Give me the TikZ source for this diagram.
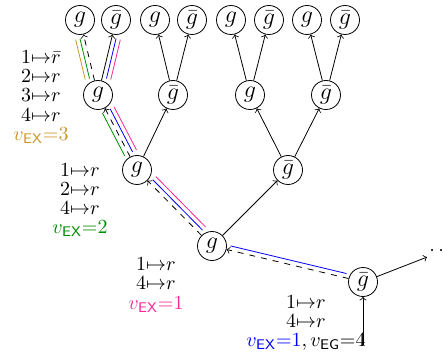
\documentclass[tikz,border=0pt]{standalone}
\usepackage{amsmath,amssymb}
\usepackage{xcolor}
\usetikzlibrary{calc}
\definecolor{exgold}{RGB}{205,150,40}
\definecolor{exgreen}{RGB}{0,140,0}
\definecolor{expink}{RGB}{245,40,150}
\definecolor{exblue}{RGB}{0,0,255}
\newcommand{\trail}[4]{\draw[#1,shorten <=9pt,shorten >=9pt] ($(#2)!#4!90:(#3)$) -- ($(#3)!#4!-90:(#2)$);}

\begin{document}
\begin{tikzpicture}[x=0.5pt,y=0.5pt,
  gl/.style={circle,draw,minimum size=14.5pt,inner sep=0pt,font=\fontsize{13pt}{15pt}\selectfont},
  lbl/.style={align=center,inner sep=0pt,font=\fontsize{10pt}{9.6pt}\selectfont}]
\useasboundingbox (0,0) rectangle (443,353);
  \node[gl] (t1) at (80,333)  {$g$};
  \node[gl] (t2) at (116,333) {$\bar g$};
  \node[gl] (t3) at (155,333) {$g$};
  \node[gl] (t4) at (192,333) {$\bar g$};
  \node[gl] (t5) at (231,333) {$g$};
  \node[gl] (t6) at (269,333) {$\bar g$};
  \node[gl] (t7) at (307,333) {$g$};
  \node[gl] (t8) at (345,333) {$\bar g$};
  \node[gl] (a1) at (98,258)  {$g$};
  \node[gl] (a2) at (173,258) {$\bar g$};
  \node[gl] (a3) at (250,258) {$g$};
  \node[gl] (a4) at (326,258) {$\bar g$};
  \node[gl] (b1) at (137,183) {$g$};
  \node[gl] (b2) at (288,183) {$\bar g$};
  \node[gl] (c)  at (212,107) {$g$};
  \node[gl] (r)  at (363,71)  {$\bar g$};
  \node[anchor=west,inner sep=1pt] (more) at (427,102) {$\cdots$};
  \coordinate (in) at (363,8);

  \draw[->] (in) -- (r);
  \draw[->] (r) -- (more);
  \draw[->,dashed] (r) -- (c);
  \draw[->] (c) -- (b2);
  \draw[->,dashed] (c) -- (b1);
  \draw[->] (b1) -- (a2);
  \draw[->,dashed] (b1) -- (a1);
  \draw[->] (b2) -- (a3);
  \draw[->] (b2) -- (a4);
  \draw[->,dashed] (a1) -- (t1);
  \draw[->] (a1) -- (t2);
  \draw[->] (a2) -- (t3);
  \draw[->] (a2) -- (t4);
  \draw[->] (a3) -- (t5);
  \draw[->] (a3) -- (t6);
  \draw[->] (a4) -- (t7);
  \draw[->] (a4) -- (t8);

  \trail{exblue}{r}{c}{-2.2pt}
  \trail{exblue}{c}{b1}{-2.2pt}
  \trail{exblue}{b1}{a1}{-2.2pt}
  \trail{exblue}{a1}{t2}{-2.2pt}
  \trail{expink}{c}{b1}{-4.4pt}
  \trail{expink}{b1}{a1}{-4.4pt}
  \trail{expink}{a1}{t2}{-4.4pt}
  \trail{exgreen}{b1}{a1}{2.2pt}
  \trail{exgreen}{a1}{t1}{2.2pt}
  \trail{exgold}{a1}{t1}{4.4pt}

  \node[lbl] (l1) at (41,256) {$1{\mapsto}\bar r$\\ $2{\mapsto}r$\\ $3{\mapsto}r$\\ $4{\mapsto}r$\\ \textcolor{exgold}{$v_{\mathsf{EX}}{=}3$}};
  \node[lbl] (l2) at (80,153) {$1{\mapsto}r$\\ $2{\mapsto}r$\\ $4{\mapsto}r$\\ \textcolor{exgreen}{$v_{\mathsf{EX}}{=}2$}};
  \node[lbl] (l3) at (156,68) {$1{\mapsto}r$\\ $4{\mapsto}r$\\ \textcolor{expink}{$v_{\mathsf{EX}}{=}1$}};
  \node[lbl] (l4) at (306,30) {$1{\mapsto}r$\\ $4{\mapsto}r$\\ \textcolor{exblue}{$v_{\mathsf{EX}}{=}1$}$,v_{\mathsf{EG}}{=}4$};
\end{tikzpicture}
\end{document}
